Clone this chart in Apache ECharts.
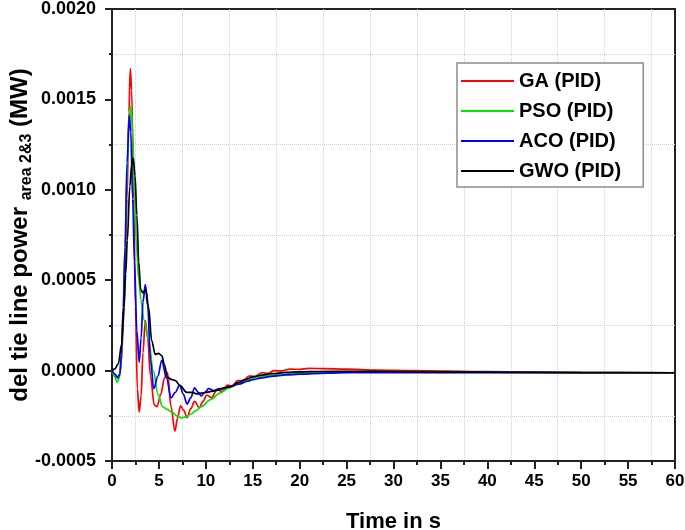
<!DOCTYPE html>
<html>
<head>
<meta charset="utf-8">
<script src="https://cdn.jsdelivr.net/npm/echarts@6/dist/echarts.min.js"></script>
<style>html,body{margin:0;padding:0;background:#fff}#c{width:685px;height:530px}</style>
</head>
<body>
<div id="c"></div>
<script>
// time (s) and values (units of 1e-4 MW)
var tGA  = [0,0.3,0.55,0.8,1.0,1.2,1.4,1.6,1.8,1.95,2.1,2.3,2.5,2.7,2.9,3.1,3.3,3.55,3.8,4.1,4.5,4.8,5.2,5.6,5.9,6.3,6.7,7.0,7.3,7.65,8.0,8.4,8.8,9.3,9.7,10.1,10.6,11.2,11.7,12.3,12.8,13.4,14.0,14.6,15.2,16.0,16.6,17.3,18.0,19.0,20.0,21.0,22.5,25,28,32,40,50,60];
var vGA  = [0,-0.2,-0.35,-0.25,0.5,2.5,5.5,9.5,14.3,16.7,15.5,9.5,3.5,-1.0,-2.3,-1.4,1.0,2.77,1.8,-0.3,-1.9,-2.0,-1.3,-0.4,-0.1,-2.0,-3.35,-2.6,-1.95,-2.2,-2.6,-2.1,-1.7,-2.05,-1.7,-1.35,-1.5,-1.05,-1.15,-0.8,-0.85,-0.55,-0.55,-0.3,-0.32,-0.12,-0.15,0,-0.02,0.08,0.07,0.12,0.11,0.08,0.03,0,-0.06,-0.1,-0.12];

var tPSO = [0,0.3,0.55,0.8,1.0,1.2,1.4,1.6,1.8,2.03,2.2,2.4,2.6,2.85,3.1,3.4,3.9,4.4,4.9,5.4,5.9,6.4,6.9,7.4,7.9,8.4,9.0,9.5,10.5,11.5,12.5,13.5,14.5,15.5,17.0,18.5,20.0,22.5,25,30,40,50,60];
var vPSO = [0,-0.35,-0.65,-0.4,0.8,3.5,7.0,10.8,13.6,14.66,13.2,9.6,7.0,5.0,3.9,2.8,1.7,0,-1.3,-2.0,-2.15,-2.3,-2.5,-2.62,-2.55,-2.4,-2.2,-2.0,-1.6,-1.25,-0.95,-0.7,-0.5,-0.38,-0.26,-0.19,-0.14,-0.1,-0.09,-0.09,-0.1,-0.11,-0.12];

var tACO = [0,0.3,0.6,0.85,1.0,1.2,1.39,1.6,1.85,2.0,2.2,2.4,2.65,2.9,3.1,3.3,3.55,3.8,4.1,4.45,4.9,5.3,5.8,6.3,6.75,7.2,7.6,8.0,8.4,8.8,9.2,9.5,9.9,10.3,10.8,11.5,12.6,13.5,14.5,15.0,16.0,17.0,18.6,20,22.9,25,30,40,50,60];
var vACO = [0,-0.2,-0.4,-0.2,0.9,3.5,6.8,11.5,14.1,13.2,9.5,6.0,2.2,0.46,1.8,3.8,4.75,3.6,0.6,-1.0,-0.3,0.57,-0.4,-1.5,-1.2,-0.8,-1.3,-1.85,-1.5,-0.95,-1.2,-1.4,-1.2,-1.0,-1.1,-1.0,-0.9,-0.75,-0.58,-0.5,-0.4,-0.32,-0.24,-0.2,-0.14,-0.12,-0.11,-0.11,-0.12,-0.12];

var tGWO = [0,0.3,0.67,1.03,1.28,1.46,1.63,1.9,2.1,2.27,2.45,2.65,2.85,3.05,3.3,3.6,3.9,4.23,4.6,4.95,5.3,5.6,5.9,6.4,6.75,7.25,7.96,8.5,9.03,9.5,10.1,10.6,11.2,12.0,12.6,13.5,14.2,15.0,16.0,17.0,18.5,20,22,25,30,40,50,60];
var vGWO = [0,0.1,0.37,1.47,3.5,5.35,7.2,10.2,11.4,11.74,10.8,8.6,6.0,4.5,4.3,4.5,3.5,1.66,0.9,0.95,0.83,0.3,-0.37,-0.5,-0.55,-0.83,-1.2,-1.2,-1.29,-1.25,-1.2,-1.15,-1.1,-0.95,-0.88,-0.65,-0.5,-0.35,-0.25,-0.17,-0.1,-0.07,-0.05,-0.04,-0.05,-0.08,-0.11,-0.12];

var seriesNames = ['GA (PID)','PSO (PID)','ACO (PID)','GWO (PID)'];
var seriesColors = ['#ff0000','#00e600','#0000ff','#000000'];
var xTicks = {min:0, max:60, interval:5};
var yTicks = {min:-0.0005, max:0.002, interval:0.0005};

function pairs(t, v){ return t.map(function(x,i){ return [x, v[i]*1e-4]; }); }
var dataSets = [pairs(tGA,vGA), pairs(tPSO,vPSO), pairs(tACO,vACO), pairs(tGWO,vGWO)];

var FONT = '"Liberation Sans", Arial, Helvetica, sans-serif';
var chart = echarts.init(document.getElementById('c'), null, {renderer:'canvas'});
chart.setOption({
  animation:false,
  backgroundColor:'#fff',
  grid:{left:112, right:10, top:9, bottom:69, containLabel:false, outerBoundsMode:'none',
        show:true, borderColor:'#222', borderWidth:2, backgroundColor:'transparent'},
  legend:{
    left:457, top:63, orient:'vertical', itemWidth:53, itemHeight:14, itemGap:10,
    padding:[8,22,6,3], borderColor:'#8c8c8c', borderWidth:1.5, backgroundColor:'#fff',
    itemStyle:{opacity:0},
    textStyle:{fontFamily:FONT, fontWeight:'bold', fontSize:20, color:'#000', lineHeight:19},
    data:seriesNames
  },
  xAxis:{
    type:'value', min:xTicks.min, max:xTicks.max, interval:xTicks.interval,
    name:'Time in s', nameLocation:'middle', nameGap:50, nameMoveOverlap:false,
    nameTextStyle:{fontFamily:FONT, fontWeight:'bold', fontSize:22, color:'#000'},
    axisLine:{show:true, onZero:false, lineStyle:{color:'#222', width:2}},
    axisTick:{show:true, inside:false, length:8, lineStyle:{color:'#222', width:2}},
    minorTick:{show:true, splitNumber:2, length:4, lineStyle:{color:'#222', width:2}},
    axisLabel:{margin:12, fontFamily:FONT, fontWeight:'bold', fontSize:17, color:'#000'},
    splitLine:{show:false},
    minorSplitLine:{show:true, lineStyle:{color:'#d0d0d0', type:'dotted', width:1}}
  },
  yAxis:{
    type:'value', min:yTicks.min, max:yTicks.max, interval:yTicks.interval,
    name:'{m|del tie line power }{s|area 2&3}{m| (MW)}',
    nameLocation:'middle', nameRotate:90, nameGap:80, nameMoveOverlap:false,
    nameTextStyle:{fontFamily:FONT, fontWeight:'bold', color:'#000',
      rich:{
        m:{fontFamily:FONT, fontWeight:'bold', fontSize:24, color:'#000', lineHeight:28, verticalAlign:'bottom'},
        s:{fontFamily:FONT, fontWeight:'bold', fontSize:16, color:'#000', lineHeight:28, verticalAlign:'bottom', padding:[0,0,-3,0]}
      }},
    axisLine:{show:true, onZero:false, lineStyle:{color:'#222', width:2}},
    axisTick:{show:true, inside:false, length:7, lineStyle:{color:'#222', width:2}},
    minorTick:{show:true, splitNumber:2, length:3, lineStyle:{color:'#222', width:2}},
    axisLabel:{margin:16, fontFamily:FONT, fontWeight:'bold', fontSize:18, color:'#000',
      formatter:function(v){ return v.toFixed(4); }},
    splitLine:{show:false},
    minorSplitLine:{show:true, lineStyle:{color:'#d0d0d0', type:'dotted', width:1}}
  },
  series: seriesNames.map(function(n,i){
    return {
      name:n, type:'line', data:dataSets[i], symbol:'none', showSymbol:false,
      smooth:0.35, smoothMonotone:'x',
      lineStyle:{color:seriesColors[i], width:1.7}, itemStyle:{color:seriesColors[i]},
      z:2+i
    };
  })
});
</script>
</body>
</html>
